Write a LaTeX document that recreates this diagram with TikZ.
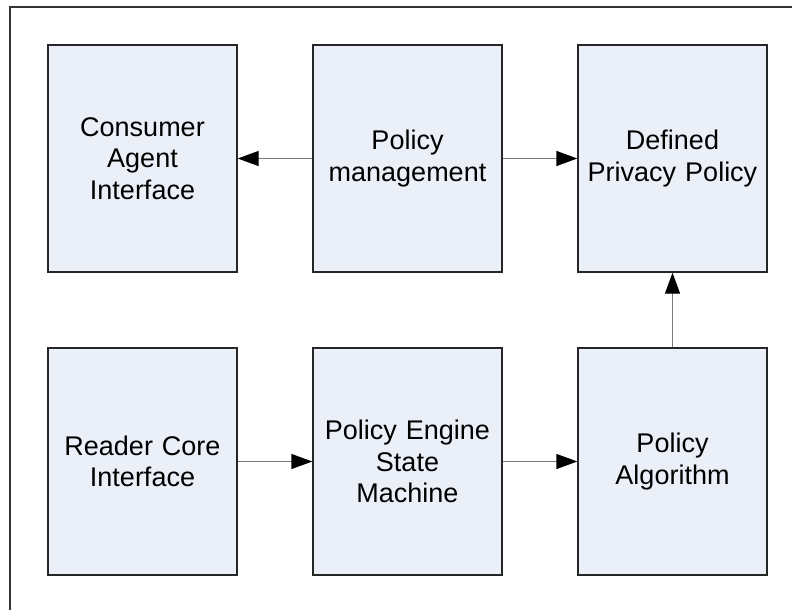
\documentclass[tikz,border=0pt]{standalone}
\usepackage{fontspec}
\setmainfont{Liberation Sans}
\usetikzlibrary{arrows.meta}
\definecolor{boxfill}{HTML}{EBF0F8}
\definecolor{linegray}{HTML}{7A7A7A}
\tikzstyle{blk}=[draw=black!85, line width=1.4pt, fill=boxfill, text width=182pt,
    align=center, minimum width=189pt, minimum height=227pt,
    font=\fontsize{27}{31.5}\selectfont]
\tikzstyle{flow}=[draw=linegray, line width=1.4pt,
    -{Triangle[length=21pt, width=15pt, color=black]}]
\def\blockdist{265}
\def\rowdist{303}

\begin{document}
\begin{tikzpicture}[x=1pt, y=1pt]
    \useasboundingbox (0,0) rectangle (792,-610);
    % outer frame, open at bottom and right
    \draw [black!80, line width=1.5pt] (10,-610) -- (10,-7) -- (792,-7);

    \node (cai) [blk] at (142.5,-158.5) {Consumer\\Agent\\Interface};
    \path (cai)+(\blockdist,0) node (pm) [blk] {Policy\\management};
    \path (pm)+(\blockdist,0) node (dpp) [blk] {Defined\\Privacy Policy};

    \path (cai)+(0,-\rowdist) node (rci) [blk] {Reader Core\\Interface};
    \path (rci)+(\blockdist,0) node (pesm) [blk] {Policy Engine\\State\\Machine};
    \path (pesm)+(\blockdist,0) node (pa) [blk] {Policy\\Algorithm};

    \draw [flow] (pm.west) -- (cai.east);
    \draw [flow] (pm.east) -- (dpp.west);
    \draw [flow] (rci.east) -- (pesm.west);
    \draw [flow] (pesm.east) -- (pa.west);
    \draw [flow] (pa.north) -- (dpp.south);
\end{tikzpicture}
\end{document}
